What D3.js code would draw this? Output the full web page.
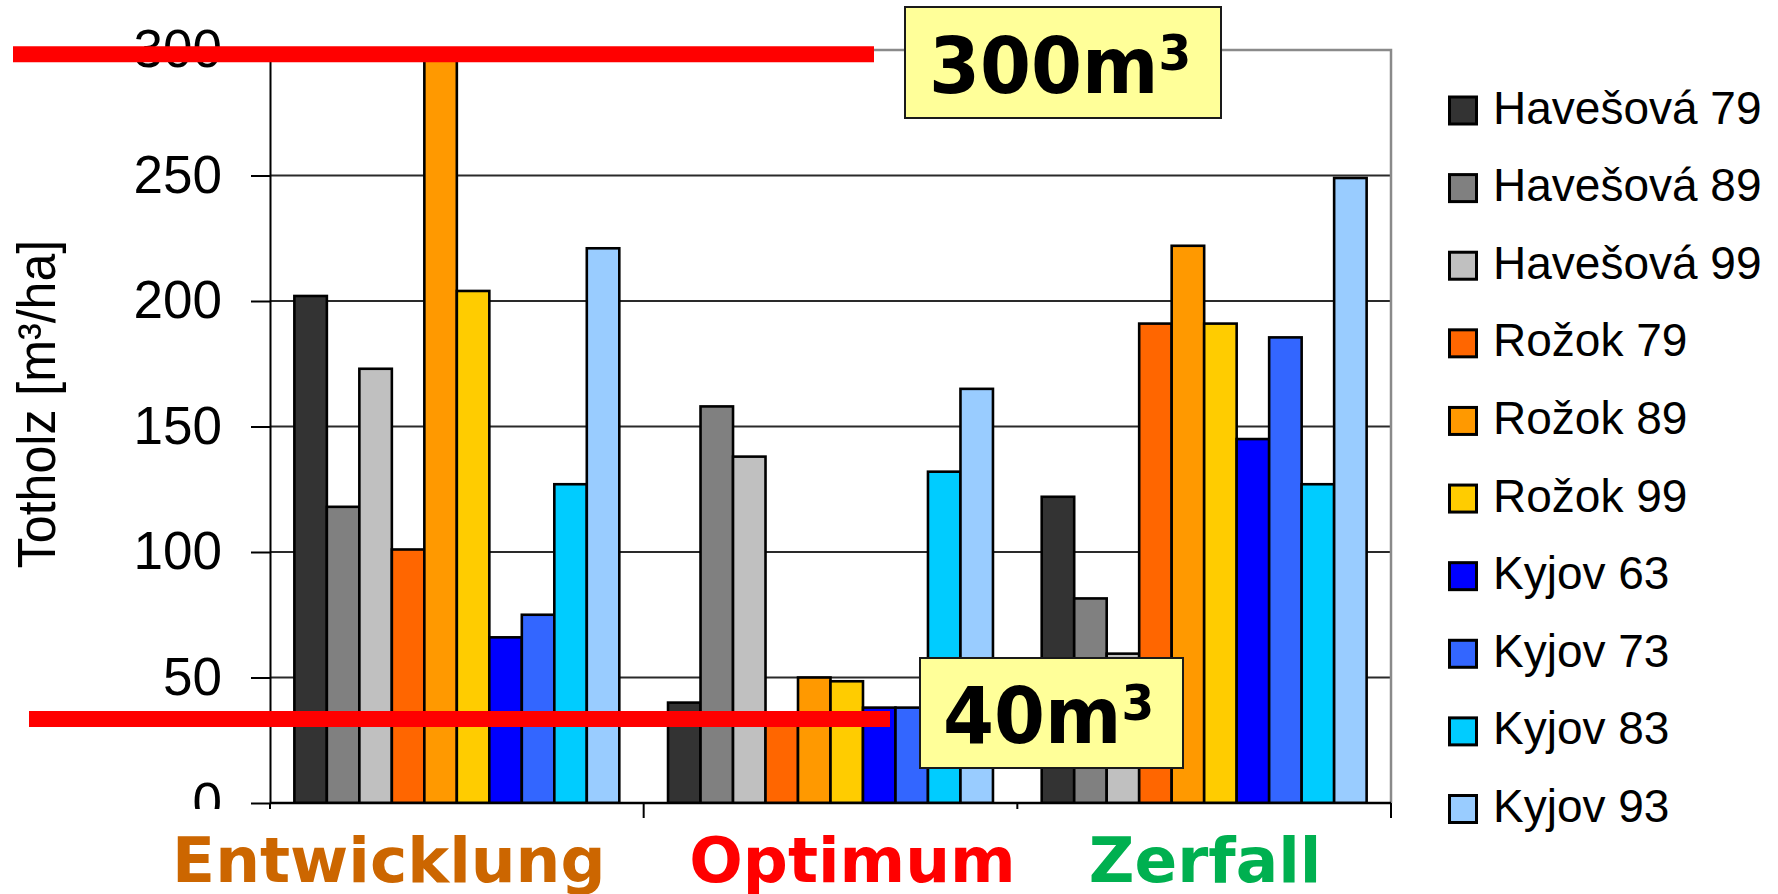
<!DOCTYPE html>
<html lang="de">
<head>
  <meta charset="UTF-8">
  <title>Totholz</title>
  <script src="https://cdnjs.cloudflare.com/ajax/libs/d3/7.8.5/d3.min.js"></script>
  <style>
    html, body { margin: 0; padding: 0; background: #fff; }
    svg { display: block; }
    .tick text { font-family: "Liberation Sans", Arial, sans-serif; }
  </style>
</head>
<body>
<svg id="chart" width="1778" height="894"></svg>
<script>
// data
const categories = ["Entwicklung", "Optimum", "Zerfall"];
const categoryColors = ["#CC6600", "#FF0000", "#00B050"];
const series = ["Havešová 79", "Havešová 89", "Havešová 99", "Rožok 79", "Rožok 89", "Rožok 99",
                "Kyjov 63", "Kyjov 73", "Kyjov 83", "Kyjov 93"];
const seriesColors = ["#333333", "#808080", "#C0C0C0", "#FF6600", "#FF9900", "#FFCC00",
                      "#0000FF", "#3366FF", "#00CCFF", "#99CCFF"];
const entwicklung = [202, 118, 173, 101, 300, 204, 66, 75, 127, 221];
const optimum     = [40, 158, 138, 33, 50, 48.5, 38, 38, 132, 165];
const zerfall     = [122, 81.5, 59.5, 191, 222, 191, 145, 185.5, 127, 249];
const yTicks = [0, 50, 100, 150, 200, 250, 300];
const markValues = [298.3, 33.5];
const markLabels = ["300", "40"];

const values = [entwicklung, optimum, zerfall];
const svg = d3.select("#chart");

const y = d3.scaleLinear().domain([0, 300]).range([803, 50]);
const x0 = d3.scaleBand().domain(categories).range([270, 1391]);
const x1 = d3.scaleBand().domain(series).range([0, x0.bandwidth()]).paddingOuter(0.75);
const color = d3.scaleOrdinal(series, seriesColors);

// grid
svg.append("g").selectAll("line")
  .data(yTicks.filter(t => t > 0 && t < 300))
  .join("line")
  .attr("x1", 270).attr("x2", 1391)
  .attr("y1", d => y(d)).attr("y2", d => y(d))
  .attr("stroke", "#2a2a2a").attr("stroke-width", 2);

// plot frame (top + right)
svg.append("path")
  .attr("d", `M270,${y(300)}H1391V${y(0)}`)
  .attr("fill", "none").attr("stroke", "#8a8a8a").attr("stroke-width", 2.5);

svg.append("clipPath").attr("id", "plotclip")
  .append("rect").attr("x", 270).attr("y", y(300) - 2).attr("width", 1121).attr("height", y(0) - y(300) + 2);

// bars
const groups = svg.append("g").attr("clip-path", "url(#plotclip)")
  .selectAll("g")
  .data(categories)
  .join("g")
  .attr("transform", d => `translate(${x0(d)},0)`);

groups.selectAll("rect")
  .data((c, ci) => series.map((s, si) => ({ s, v: values[ci][si] })))
  .join("rect")
  .attr("x", d => x1(d.s))
  .attr("width", x1.bandwidth())
  .attr("y", d => y(d.v))
  .attr("height", d => y(0) - y(d.v))
  .attr("fill", d => color(d.s))
  .attr("stroke", "#000")
  .attr("stroke-width", 2.6);

// y axis
const yAxis = svg.append("g")
  .attr("transform", "translate(270,0)")
  .call(d3.axisLeft(y).tickValues(yTicks).tickSize(19).tickSizeOuter(0).tickPadding(29));
yAxis.select(".domain").attr("stroke", "#000").attr("stroke-width", 2);
yAxis.selectAll(".tick line").attr("stroke", "#000").attr("stroke-width", 2);
yAxis.selectAll(".tick text").attr("font-size", 53).attr("fill", "#000");

// x axis line + category ticks
svg.append("line")
  .attr("x1", 270).attr("x2", 1391).attr("y1", y(0)).attr("y2", y(0))
  .attr("stroke", "#000").attr("stroke-width", 2.5);
svg.append("g").selectAll("line")
  .data(categories.map(c => x0(c)).concat([x0.range()[1]]))
  .join("line")
  .attr("x1", d => d).attr("x2", d => d)
  .attr("y1", y(0)).attr("y2", y(0) + 15)
  .attr("stroke", "#000").attr("stroke-width", 2);

// category labels (text boxes with white fill, shifted as in the slide)
const labelShift = [-68, 22, 1];
const catLabels = svg.append("g").selectAll("g")
  .data(categories)
  .join("g");
const catText = catLabels.append("text")
  .attr("x", (d, i) => x0(d) + x0.bandwidth() / 2 + labelShift[i])
  .attr("y", 882)
  .attr("text-anchor", "middle")
  .attr("font-family", "'DejaVu Sans', Verdana, sans-serif")
  .attr("font-weight", "bold")
  .attr("font-size", 63)
  .attr("fill", (d, i) => categoryColors[i])
  .text(d => d);
catLabels.each(function () {
  const t = d3.select(this).select("text");
  const b = t.node().getBBox();
  d3.select(this).insert("rect", "text")
    .attr("x", b.x - 30).attr("y", 809)
    .attr("width", b.width + 60).attr("height", 894 - 809)
    .attr("fill", "#fff");
});

// y title
svg.append("text")
  .attr("transform", "translate(55,404) rotate(-90) scale(0.945,1)")
  .attr("text-anchor", "middle")
  .attr("font-family", "'Liberation Sans', Arial, sans-serif")
  .attr("font-size", 53)
  .attr("fill", "#000")
  .text("Totholz [m³/ha]");

// legend
const ly = d3.scalePoint().domain(series).range([110.5, 809]);
const legend = svg.append("g").selectAll("g")
  .data(series)
  .join("g")
  .attr("transform", d => `translate(1448,${ly(d)})`);
legend.append("rect")
  .attr("x", 1.5).attr("y", -13.5).attr("width", 27).attr("height", 27)
  .attr("fill", d => color(d)).attr("stroke", "#000").attr("stroke-width", 3);
legend.append("text")
  .attr("x", 45).attr("y", 13)
  .attr("font-family", "'Liberation Sans', Arial, sans-serif")
  .attr("font-size", 46)
  .attr("fill", "#000")
  .text(d => d);

// red threshold lines
const lineSpans = [[13, 874], [29, 890]];
svg.append("g").selectAll("line")
  .data(markValues)
  .join("line")
  .attr("x1", (d, i) => lineSpans[i][0]).attr("x2", (d, i) => lineSpans[i][1])
  .attr("y1", d => y(d)).attr("y2", d => y(d))
  .attr("stroke", "#FF0000").attr("stroke-width", 16);

// yellow callouts
const boxes = [{ x: 905, y: 7, w: 316, h: 111, tx: 929, ty: 93 },
               { x: 920, y: 658, w: 263, h: 110, tx: 943, ty: 743 }];
const callouts = svg.append("g").selectAll("g")
  .data(markLabels)
  .join("g");
callouts.append("rect")
  .attr("x", (d, i) => boxes[i].x).attr("y", (d, i) => boxes[i].y)
  .attr("width", (d, i) => boxes[i].w).attr("height", (d, i) => boxes[i].h)
  .attr("fill", "#FFFF99").attr("stroke", "#1a1a1a").attr("stroke-width", 2);
const ct = callouts.append("text")
  .attr("transform", (d, i) => `translate(${boxes[i].tx},${boxes[i].ty}) scale(0.94,1)`)
  .attr("font-family", "'DejaVu Sans', Verdana, sans-serif")
  .attr("font-weight", "bold")
  .attr("font-size", 78)
  .attr("fill", "#000");
ct.append("tspan").text(d => d + "m");
ct.append("tspan").attr("font-size", 50).attr("dy", -23).text("3");
</script>
</body>
</html>
